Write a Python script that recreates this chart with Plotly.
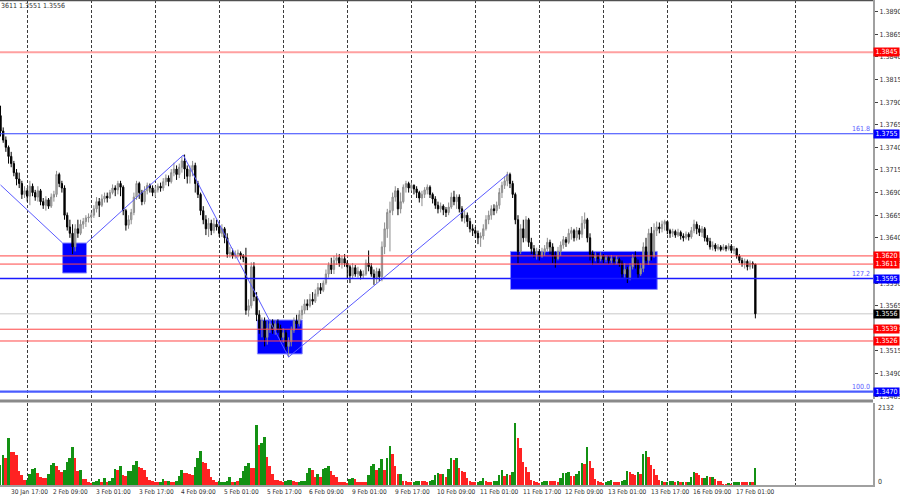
import plotly.graph_objects as go

# ---------------- DATA ----------------
# H1 bars, index 0 = 30 Jan 14:00 ; prices in 1e-4 units (13758 -> 1.3758)
first_open = 13775
close_p = [
 13758,13748,13740,13730,13722,13712,13705,13700,13688,13692,
 13686,13697,13690,13685,13692,13680,13676,13682,13675,13685,
 13688,13710,13700,13695,13665,13652,13645,13630,13650,13645,
 13655,13658,13662,13663,13665,13672,13680,13676,13683,13686,
 13684,13690,13695,13693,13700,13696,13670,13654,13660,13668,
 13685,13700,13690,13680,13692,13698,13695,13690,13693,13697,
 13695,13702,13706,13702,13712,13716,13710,13718,13725,13716,
 13708,13715,13720,13700,13688,13670,13660,13650,13656,13648,
 13655,13652,13645,13650,13640,13622,13624,13620,13622,13623,
 13620,13618,13560,13565,13608,13575,13555,13540,13548,13530,
 13540,13545,13538,13545,13540,13530,13535,13520,13525,13538,
 13548,13545,13555,13560,13567,13565,13572,13570,13578,13585,
 13582,13590,13600,13610,13605,13615,13618,13612,13617,13612,
 13608,13598,13607,13600,13603,13598,13600,13612,13608,13600,
 13596,13603,13597,13630,13650,13668,13670,13685,13692,13672,
 13680,13696,13700,13695,13698,13694,13690,13684,13688,13693,
 13696,13688,13683,13676,13672,13675,13671,13668,13674,13685,
 13680,13685,13672,13662,13665,13658,13650,13648,13645,13640,
 13642,13650,13660,13665,13672,13670,13676,13690,13698,13703,
 13710,13700,13688,13660,13625,13650,13640,13660,13635,13628,
 13622,13625,13620,13624,13628,13635,13630,13620,13617,13625,
 13632,13638,13635,13645,13648,13640,13648,13644,13656,13660,
 13640,13622,13618,13620,13617,13620,13616,13618,13615,13617,
 13614,13616,13612,13600,13605,13596,13608,13618,13612,13600,
 13606,13630,13615,13645,13620,13648,13652,13650,13655,13658,
 13648,13645,13647,13643,13646,13642,13640,13644,13641,13648,
 13655,13650,13646,13650,13640,13636,13630,13632,13628,13630,
 13627,13630,13628,13631,13626,13628,13620,13615,13612,13614,
 13608,13612,13611,13556]
high_p = [
 13786,13762,13752,13742,13735,13725,13716,13712,13703,13697,
 13695,13703,13700,13693,13697,13694,13684,13686,13684,13689,
 13692,13714,13712,13703,13698,13668,13660,13655,13655,13660,
 13660,13662,13665,13667,13668,13676,13685,13684,13688,13690,
 13690,13693,13699,13698,13703,13703,13698,13672,13665,13672,
 13690,13703,13702,13693,13697,13701,13700,13698,13697,13700,
 13701,13706,13710,13709,13716,13723,13720,13722,13730,13732,
 13720,13720,13725,13723,13703,13690,13675,13665,13662,13660,
 13662,13660,13656,13655,13652,13645,13630,13628,13626,13627,
 13625,13622,13629,13572,13613,13613,13580,13560,13552,13552,
 13548,13550,13550,13549,13550,13544,13540,13538,13530,13542,
 13552,13555,13560,13565,13572,13572,13578,13580,13583,13590,
 13590,13593,13605,13613,13618,13620,13623,13622,13620,13622,
 13615,13610,13612,13610,13608,13605,13604,13616,13626,13612,
 13605,13607,13606,13636,13657,13672,13680,13690,13697,13695,
 13690,13699,13703,13702,13701,13699,13697,13692,13692,13696,
 13699,13698,13690,13686,13680,13679,13677,13674,13679,13690,
 13692,13688,13688,13675,13670,13668,13662,13655,13652,13648,
 13646,13655,13665,13670,13676,13677,13680,13695,13702,13708,
 13713,13712,13703,13690,13665,13655,13660,13664,13662,13640,
 13632,13629,13628,13629,13632,13640,13638,13634,13625,13630,
 13636,13642,13641,13650,13652,13650,13652,13651,13664,13668,
 13662,13645,13626,13624,13623,13624,13622,13621,13620,13621,
 13619,13620,13618,13615,13612,13608,13612,13622,13625,13616,
 13612,13635,13640,13650,13652,13656,13658,13657,13659,13660,
 13656,13650,13650,13649,13650,13648,13645,13647,13646,13652,
 13660,13658,13654,13653,13652,13643,13640,13636,13634,13633,
 13632,13633,13632,13634,13633,13631,13629,13622,13618,13617,
 13616,13615,13614,13611]
low_p = [
 13752,13745,13735,13722,13718,13708,13698,13695,13683,13684,
 13680,13676,13686,13681,13680,13676,13672,13670,13672,13673,
 13680,13685,13696,13690,13660,13648,13640,13622,13625,13640,
 13643,13650,13652,13657,13658,13662,13668,13663,13674,13679,
 13679,13683,13688,13686,13688,13686,13665,13648,13650,13655,
 13665,13682,13683,13676,13677,13688,13690,13686,13685,13690,
 13691,13692,13698,13697,13700,13708,13704,13706,13712,13705,
 13700,13700,13708,13690,13684,13665,13655,13643,13641,13643,
 13645,13648,13641,13641,13634,13618,13618,13617,13617,13618,
 13616,13613,13555,13553,13562,13570,13548,13534,13530,13520,
 13522,13535,13534,13533,13535,13525,13524,13515,13508,13520,
 13535,13540,13542,13550,13556,13560,13563,13566,13568,13575,
 13578,13580,13588,13596,13600,13600,13610,13608,13606,13608,
 13595,13590,13595,13597,13596,13594,13595,13598,13603,13597,
 13588,13590,13592,13592,13622,13640,13625,13665,13680,13665,
 13667,13678,13690,13690,13692,13688,13684,13679,13675,13684,
 13688,13684,13678,13672,13667,13668,13665,13663,13665,13672,
 13676,13672,13668,13658,13656,13652,13646,13642,13640,13633,
 13630,13638,13648,13655,13660,13665,13667,13672,13684,13694,
 13697,13695,13684,13655,13612,13622,13635,13636,13630,13622,
 13618,13616,13615,13618,13620,13625,13622,13612,13607,13615,
 13620,13628,13630,13633,13638,13636,13637,13638,13640,13650,
 13635,13615,13610,13614,13612,13614,13612,13613,13611,13612,
 13610,13611,13608,13596,13596,13590,13593,13605,13606,13595,
 13598,13602,13610,13610,13615,13618,13642,13645,13646,13648,
 13644,13640,13641,13640,13641,13638,13636,13638,13637,13639,
 13645,13644,13642,13641,13636,13632,13627,13626,13625,13626,
 13625,13626,13625,13626,13623,13622,13617,13612,13608,13606,
 13604,13605,13606,13551]
volume = [
 560,840,756,1316,924,924,840,392,280,140,
 140,308,448,476,336,224,196,196,308,560,
 616,532,420,364,420,644,756,1064,756,392,
 420,168,168,84,56,84,112,168,84,196,
 84,112,196,448,420,532,280,252,392,392,
 560,672,504,476,420,224,140,112,84,84,
 84,168,112,112,84,84,112,252,420,336,
 336,308,280,504,756,952,644,616,448,224,
 140,84,112,84,84,112,224,84,84,112,
 196,392,532,616,476,476,1680,1120,1176,1344,
 784,532,308,140,140,112,84,112,140,140,
 112,84,84,112,112,336,476,420,224,308,
 224,448,476,532,392,280,224,84,84,84,
 56,168,196,168,84,84,84,84,280,532,
 588,420,476,728,420,756,1092,868,532,308,
 308,112,112,84,84,84,112,112,112,112,
 84,112,140,280,336,308,308,224,448,756,
 700,756,476,392,364,196,112,84,84,84,
 112,196,112,84,84,112,112,280,420,252,
 308,280,364,1736,1316,1036,644,504,364,140,
 112,84,56,84,112,112,112,112,112,84,
 196,336,336,364,252,252,308,392,616,588,
 1064,672,476,168,112,84,56,84,112,140,
 84,84,84,112,140,392,364,308,280,364,
 308,868,952,784,560,448,280,140,112,84,
 84,112,112,84,112,84,84,84,84,224,
 364,336,280,196,196,252,224,224,168,112,
 112,28,28,56,28,84,84,84,84,84,
 84,84,84,476]
# volume colour flags (g = up, r = down)
vol_flags = ("ggrgrrrrrr" "ggggrrrrgg" "grrrggggrr" "grrrrgggrg" "rgggrgrrgg"
             "ggrrrrrrrr" "ggrgrrgggr" "rrrgggrrrr" "rrgggggrgr" "ggggrrgrgg"
             "rrrrrrrggg" "rrgggggrrg" "rgggrrrrrr" "rggrrrrrgg" "grggrggrrr"
             "grrrrgggrr" "rggggrgrgg" "rgrrrrrrrg" "ggrrrggggr" "grggrrrrrr"
             "rrrgggrrrr" "ggggrrgggr" "grrrrrrggg" "rrrgggrrrg" "rggrrrrrgr"
             "gggrgrgrgg" "grrrggrgrr" "rrrgrgggrr" "rgrg")

time_label_idx = [3, 19, 35, 51, 67, 83, 99, 115, 131, 147, 163, 179, 195, 211, 227, 243, 259, 275]
time_labels = ["30 Jan 17:00", "2 Feb 09:00", "3 Feb 01:00", "3 Feb 17:00", "4 Feb 09:00",
               "5 Feb 01:00", "5 Feb 17:00", "6 Feb 09:00", "9 Feb 01:00", "9 Feb 17:00",
               "10 Feb 09:00", "11 Feb 01:00", "11 Feb 17:00", "12 Feb 09:00", "13 Feb 01:00",
               "13 Feb 17:00", "16 Feb 09:00", "17 Feb 01:00"]
day_start_idx = [10, 34, 58, 82, 106, 130, 154, 178, 202, 226, 250, 274, 298]

price_ticks = [1.3465, 1.3490, 1.3515, 1.3540, 1.3565, 1.3590, 1.3615, 1.3640, 1.3665,
               1.3690, 1.3715, 1.3740, 1.3765, 1.3790, 1.3815, 1.3840, 1.3865, 1.3890]
price_tick_text = ["1.3465", "1.3490", "1.3515", "1.3540", "1.3565", "1.3590", "1.3615",
                   "1.3640", "1.3665", "1.3690", "1.3715", "1.3740", "1.3765", "1.3790",
                   "1.3815", "1.3840", "1.3865", "1.3890"]

red_levels = [1.3845, 1.3620, 1.3611, 1.3539, 1.3526]
blue_levels = [1.3755, 1.3595, 1.3470]
fib_labels = ["161.8", "127.2", "100.0"]
bid_price = 1.3556
ohlc_text = "3611 1.3551 1.3556"

# zones: (start bar, end bar, low price, high price)
zones = [(23.25, 32.25, 1.36011, 1.36343),
         (96.3, 113.1, 1.35117, 1.35492),
         (191.2, 246.2, 1.35830, 1.36250)]
# zigzag segments (bar index, price)
zig1_x = [0, 23.25]
zig1_y = [1.36984, 1.36343]
zig2_x = [32.25, 68.5, 108.0, 190.2]
zig2_y = [1.36343, 1.37315, 1.35083, 1.37104]

vol_max_label = 2132

# ---------------- BUILD ----------------
FONT = "Liberation Sans Narrow, DejaVu Sans Condensed, Liberation Sans, sans-serif"
n = len(close_p)
xs = list(range(n))
closes = [c / 10000 for c in close_p]
opens = [first_open / 10000] + closes[:-1]
highs = [max(h / 10000, o, c) for h, o, c in zip(high_p, opens, closes)]
lows = [min(l / 10000, o, c) for l, o, c in zip(low_p, opens, closes)]

H_PLOT = 485.0
def py(ypx):
    return (H_PLOT - ypx) / H_PLOT

fig = go.Figure()
fig.add_trace(go.Candlestick(
    x=xs, open=opens, high=highs, low=lows, close=closes,
    xaxis="x", yaxis="y",
    increasing=dict(line=dict(color="#8c8c8c", width=1), fillcolor="#b4b4b4"),
    decreasing=dict(line=dict(color="#000000", width=1), fillcolor="#000000"),
    whiskerwidth=0, showlegend=False, hoverinfo="skip"))

fig.add_trace(go.Scatter(x=zig1_x, y=zig1_y, mode="lines", xaxis="x", yaxis="y",
                         line=dict(color="#5a5aff", width=1), showlegend=False, hoverinfo="skip"))
fig.add_trace(go.Scatter(x=zig2_x, y=zig2_y, mode="lines", xaxis="x", yaxis="y",
                         line=dict(color="#5a5aff", width=1), showlegend=False, hoverinfo="skip"))

vcols = ["#139113" if f == "g" else "#ff2222" for f in vol_flags]
fig.add_trace(go.Bar(x=xs, y=volume, xaxis="x2", yaxis="y2", marker=dict(color=vcols, line=dict(width=0)),
                     width=0.72, showlegend=False, hoverinfo="skip"))

shapes = []
for (x0, x1, y0, y1) in zones:
    shapes.append(dict(type="rect", xref="x", yref="y", x0=x0, x1=x1, y0=y0, y1=y1,
                       fillcolor="#0000ff", line=dict(color="#8c8cff", width=1), layer="between"))
for p in red_levels:
    w = 2 if p == 1.3845 else 1
    c = "#ffa0a0" if p == 1.3845 else "#ff4646"
    shapes.append(dict(type="line", xref="paper", yref="y", x0=0, x1=1, y0=p, y1=p,
                       line=dict(color=c, width=w), layer="above"))
for p in blue_levels:
    w = 2.2 if p == 1.3470 else (1.5 if p == 1.3595 else 1)
    c = "#4a5cff" if p == 1.3470 else ("#1a1aff" if p == 1.3595 else "#3040ff")
    shapes.append(dict(type="line", xref="paper", yref="y", x0=0, x1=1, y0=p, y1=p,
                       line=dict(color=c, width=w), layer="above"))
shapes.append(dict(type="line", xref="paper", yref="y", x0=0, x1=1, y0=bid_price, y1=bid_price,
                   line=dict(color="#c8c8c8", width=1), layer="between"))
shapes.append(dict(type="rect", xref="paper", yref="paper", x0=0, x1=1, y0=py(402.6), y1=py(399.6),
                   fillcolor="#8a8a8a", line=dict(width=0), layer="above"))
shapes.append(dict(type="line", xref="paper", yref="paper", x0=0, x1=1, y0=py(0.6), y1=py(0.6),
                   line=dict(color="#505050", width=1.5), layer="above"))

ann = []
def box(p, text, color):
    ann.append(dict(xref="paper", yref="y", x=1, y=p, xanchor="left", yanchor="middle",
                    text=text, showarrow=False, bgcolor=color, width=25, height=8, borderpad=0,
                    font=dict(family=FONT, size=7, color="#ffffff"), align="center"))
for p in red_levels:
    box(p, f"{p:.4f}", "#ff0000")
for p in blue_levels:
    box(p, f"{p:.4f}", "#0000ff")
box(bid_price, f"{bid_price:.4f}", "#000000")
for p, t in zip(blue_levels, fib_labels):
    ann.append(dict(xref="paper", yref="y", x=1, y=p, xanchor="right", yanchor="bottom", text=t,
                    showarrow=False, xshift=-1, yshift=-1,
                    font=dict(family=FONT, size=7, color="#5a5aff")))
for i, t in zip(time_label_idx, time_labels):
    ann.append(dict(xref="x2", yref="paper", x=i, y=py(492), xanchor="left", yanchor="middle",
                    text=t, showarrow=False, font=dict(family=FONT, size=6.5, color="#303030")))
ann.append(dict(xref="paper", yref="paper", x=1, y=py(408), xanchor="left", yanchor="middle",
                text=str(vol_max_label), showarrow=False, xshift=3,
                font=dict(family=FONT, size=7, color="#303030")))
ann.append(dict(xref="paper", yref="paper", x=1, y=py(481.5), xanchor="left", yanchor="middle",
                text="0", showarrow=False, xshift=3,
                font=dict(family=FONT, size=7, color="#303030")))
ann.append(dict(xref="paper", yref="paper", x=0, y=py(6.5), xanchor="left", yanchor="middle",
                text=ohlc_text, showarrow=False, xshift=-1,
                font=dict(family=FONT, size=7, color="#303030")))

xr = [-0.2, 327.1]
fig.update_layout(
    width=900, height=500, margin=dict(l=0, r=27, t=0, b=15),
    paper_bgcolor="#ffffff", plot_bgcolor="#ffffff", showlegend=False,
    hovermode=False, bargap=0,
    xaxis=dict(domain=[0, 1], anchor="y", range=xr, tickmode="array", tickvals=day_start_idx,
               showticklabels=False, ticks="", showgrid=True, gridcolor="#3c3c3c", gridwidth=1,
               griddash="3px,2px", zeroline=False, showline=False, rangeslider=dict(visible=False)),
    yaxis=dict(domain=[py(399), 1], anchor="x", side="right", range=[1.34619, 1.39028],
               tickmode="array", tickvals=price_ticks, ticktext=price_tick_text, ticks="outside",
               ticklen=3, tickcolor="#404040", tickwidth=1,
               tickfont=dict(family=FONT, size=7, color="#303030"),
               showgrid=False, zeroline=False, showline=True, linecolor="#a0a0a0", linewidth=2),
    xaxis2=dict(domain=[0, 1], anchor="y2", matches="x", range=xr, tickmode="array",
                tickvals=day_start_idx, showticklabels=False, ticks="", showgrid=True,
                gridcolor="#3c3c3c", gridwidth=1, griddash="3px,2px", zeroline=False,
                showline=True, linecolor="#a0a0a0", linewidth=2),
    yaxis2=dict(domain=[0, py(403)], anchor="x2", side="right", range=[0, 2296],
                showticklabels=False, ticks="", showgrid=False, zeroline=False,
                showline=True, linecolor="#a0a0a0", linewidth=2),
    shapes=shapes, annotations=ann,
)

fig.write_html("out.html", config={"displayModeBar": False},
               post_script="document.body.style.margin='0px';document.body.style.overflow='hidden';")
